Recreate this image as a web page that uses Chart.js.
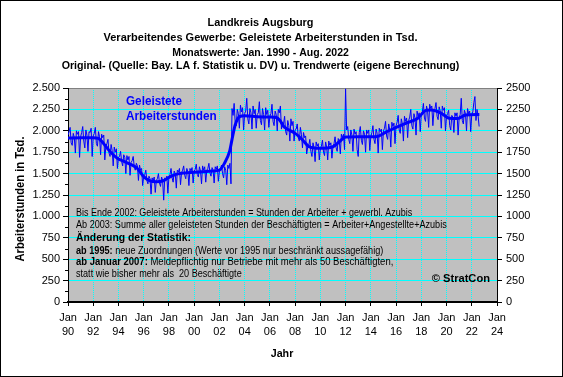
<!DOCTYPE html>
<html>
<head>
<meta charset="utf-8">
<script src="https://cdn.jsdelivr.net/npm/chart.js@4/dist/chart.umd.min.js"></script>
<style>
  body { margin: 0; background: #fff; }
  canvas { display: block; }
</style>
</head>
<body>
<canvas id="chart" width="563" height="377"></canvas>
<script>
// Monatswerte (Tsd. Stunden), Jan 1990 - Aug 2022, eine Zeile pro Jahr
const startYear = 1990;
const monthlyValues = [
  1950, 1990, 2040, 1860, 1830, 1970, 1920, 1740, 2000, 1960, 1990, 1690, // 1990
  1930, 1980, 2050, 1880, 1800, 2010, 1950, 1760, 1990, 1980, 2030, 1700, // 1991
  1940, 1970, 2040, 1850, 1820, 1990, 1930, 1720, 1960, 1920, 1950, 1660, // 1992
  1820, 1850, 1900, 1740, 1700, 1840, 1770, 1590, 1810, 1750, 1790, 1560, // 1993
  1690, 1700, 1760, 1640, 1590, 1720, 1690, 1500, 1710, 1660, 1700, 1480, // 1994
  1630, 1650, 1700, 1580, 1540, 1620, 1590, 1420, 1600, 1540, 1560, 1360, // 1995
  1470, 1490, 1540, 1420, 1380, 1470, 1440, 1260, 1450, 1420, 1460, 1280, // 1996
  1420, 1440, 1500, 1390, 1350, 1460, 1420, 1190, 1450, 1430, 1470, 1270, // 1997
  1470, 1490, 1560, 1450, 1400, 1530, 1500, 1330, 1540, 1520, 1560, 1370, // 1998
  1510, 1540, 1590, 1480, 1440, 1560, 1520, 1360, 1560, 1530, 1570, 1390, // 1999
  1530, 1550, 1610, 1490, 1460, 1580, 1530, 1380, 1590, 1540, 1580, 1400, // 2000
  1540, 1560, 1620, 1510, 1470, 1570, 1540, 1390, 1580, 1550, 1590, 1410, // 2001
  1530, 1550, 1600, 1500, 1450, 1580, 1540, 1370, 1600, 1560, 1620, 1380, // 2002
  2260, 2180, 2320, 2100, 2060, 2250, 2200, 2030, 2300, 2220, 2270, 2010, // 2003
  2200, 2230, 2380, 2140, 2080, 2260, 2210, 2020, 2290, 2200, 2250, 2030, // 2004
  2190, 2210, 2340, 2120, 2070, 2260, 2190, 2010, 2270, 2190, 2240, 2040, // 2005
  2170, 2200, 2310, 2110, 2060, 2230, 2190, 2000, 2250, 2210, 2290, 2020, // 2006
  2100, 2080, 2170, 1990, 1950, 2120, 2060, 1880, 2140, 2060, 2110, 1880, // 2007
  2010, 2020, 2080, 1920, 1880, 2040, 1960, 1800, 1980, 1920, 1940, 1730, // 2008
  1810, 1830, 1900, 1760, 1700, 1860, 1800, 1640, 1870, 1820, 1850, 1660, // 2009
  1790, 1820, 1890, 1750, 1710, 1870, 1810, 1660, 1880, 1830, 1860, 1680, // 2010
  1820, 1850, 1930, 1800, 1760, 1910, 1880, 1730, 1960, 1920, 1960, 1780, // 2011
  2490, 2010, 2050, 1900, 1850, 2010, 1950, 1760, 2020, 1960, 1990, 1780, // 2012
  1700, 1980, 2050, 1890, 1840, 2000, 1960, 1750, 2010, 1970, 2010, 1770, // 2013
  1930, 1980, 2060, 1900, 1850, 2020, 1970, 1740, 2030, 1990, 2020, 1780, // 2014
  2000, 2030, 2110, 1940, 1900, 2080, 2010, 1810, 2100, 2050, 2090, 1850, // 2015
  2060, 2100, 2180, 2010, 1970, 2140, 2080, 1880, 2170, 2110, 2150, 1920, // 2016
  2120, 2160, 2250, 2060, 2020, 2200, 2150, 1950, 2230, 2170, 2210, 1990, // 2017
  2200, 2220, 2320, 2150, 2110, 2290, 2230, 2040, 2310, 2260, 2290, 2060, // 2018
  2230, 2260, 2330, 2170, 2130, 2280, 2230, 2030, 2290, 2240, 2270, 2000, // 2019
  2170, 2200, 2240, 2060, 2010, 2180, 2160, 1980, 2210, 2170, 2210, 1950, // 2020
  2150, 2190, 2380, 2120, 2080, 2240, 2200, 2000, 2260, 2200, 2230, 1990, // 2021
  2190, 2220, 2330, 2400, 2120, 2250, 2180, 2050                          // 2022
];

// Trendwerte, Zeitpunkt in Jahren
const trendYears = [
  1990.0, 1991.0, 1992.0, 1992.4, 1992.8, 1993.2, 1993.6, 1994.0, 1994.4, 1995.0,
  1995.5, 1996.0, 1996.5, 1997.0, 1997.5, 1998.0, 1998.5, 1999.0, 2000.0, 2001.0,
  2001.5, 2002.0, 2002.4, 2002.8, 2003.0, 2003.25, 2003.6, 2004.0, 2005.0, 2006.0,
  2006.5, 2006.8, 2007.1, 2007.3, 2008.0, 2008.6, 2009.1, 2009.9, 2011.0, 2011.5,
  2012.0, 2013.0, 2014.4, 2015.2, 2016.0, 2016.8, 2017.7, 2018.4, 2018.8, 2019.6,
  2020.2, 2020.9, 2021.5, 2022.6
];
const trendValues = [
  1915, 1918, 1918, 1912, 1855, 1780, 1717, 1670, 1647, 1605,
  1560, 1465, 1415, 1405, 1413, 1455, 1488, 1503, 1515, 1525,
  1530, 1540, 1620, 1756, 1900, 2067, 2165, 2175, 2165, 2160,
  2155, 2120, 2050, 2028, 1970, 1892, 1814, 1795, 1814, 1872,
  1928, 1931, 1931, 1985, 2040, 2090, 2145, 2240, 2243, 2204,
  2148, 2145, 2184, 2190
];

// Achsen
const xMin = 1990, xMax = 2024, xStep = 2;
const yMin = 0, yMax = 2500, yStep = 250;

const titleLines = [
  'Landkreis Augsburg',
  'Verarbeitendes Gewerbe: Geleistete Arbeiterstunden in Tsd.',
  'Monatswerte: Jan. 1990 - Aug. 2022',
  'Original- (Quelle: Bay. LA f. Statistik u. DV) u. Trendwerte (eigene Berechnung)'
];

const blue = '#0000FF';
const cyan = '#00FFFF';
const font = '"Liberation Sans", Arial, sans-serif';

// deutsches Zahlenformat fuer die linke Achse
function fmtDe(v) {
  if (v < 1000) return String(v);
  return Math.floor(v / 1000) + '.' + String(v % 1000).padStart(3, '0');
}

// Text aus Segmenten auf eine Zielbreite strecken/stauchen
function drawFit(ctx, segs, x, y, width, align) {
  let w = 0;
  segs.forEach(s => { ctx.font = s.f; w += ctx.measureText(s.t).width; });
  const k = width / w;
  ctx.save();
  ctx.translate(align === 'center' ? x - width / 2 : x, y);
  ctx.scale(k, 1);
  let cx = 0;
  segs.forEach(s => {
    ctx.font = s.f;
    ctx.fillText(s.t, cx, 0);
    cx += ctx.measureText(s.t).width;
  });
  ctx.restore();
}

const decoPlugin = {
  id: 'deco',
  beforeDraw(chart) {
    const { ctx, chartArea: a } = chart;
    ctx.save();
    ctx.fillStyle = '#fff';
    ctx.fillRect(0, 0, chart.width, chart.height);
    ctx.fillStyle = '#C0C0C0';
    ctx.fillRect(a.left, a.top, a.right - a.left, a.bottom - a.top);
    ctx.restore();
  },
  afterDraw(chart) {
    const { ctx } = chart;
    const yScale = chart.scales.y;
    ctx.save();
    ctx.textBaseline = 'middle';
    ctx.fillStyle = '#000';

    // Titel
    const b11 = 'bold 11px ' + font;
    const tY = [22.7, 37.5, 52.5, 66];
    const tW = [106, 314, 176.7, 397.7];
    titleLines.forEach((t, i) => drawFit(ctx, [{ t, f: b11 }], 260.5, tY[i], tW[i], 'center'));

    // Hinweise im Diagramm
    const n10 = '10px ' + font, b10 = 'bold 10px ' + font;
    drawFit(ctx, [{ t: 'Bis Ende 2002: Geleistete Arbeiterstunden = Stunden der Arbeiter + gewerbl. Azubis', f: n10 }], 76, 213.3, 336.3);
    drawFit(ctx, [{ t: 'Ab 2003: Summe aller geleisteten Stunden der Beschäftigten = Arbeiter+Angestellte+Azubis', f: n10 }], 76, 225, 370.7);
    drawFit(ctx, [{ t: 'Änderung der Statistik:', f: 'bold 11px ' + font }], 76, 238.3, 115);
    drawFit(ctx, [{ t: 'ab 1995: ', f: b10 }, { t: 'neue Zuordnungen (Werte vor 1995 nur beschränkt aussagefähig)', f: n10 }], 76, 251, 307.3);
    drawFit(ctx, [{ t: 'ab Januar 2007: ', f: b10 }, { t: 'Meldepflichtig nur Betriebe mit mehr als 50 Beschäftigten,', f: n10 }], 76, 262.3, 317.3);
    drawFit(ctx, [{ t: 'statt wie bisher mehr als  20 Beschäftigte', f: n10 }], 76, 274, 165.7);

    drawFit(ctx, [{ t: '© StratCon', f: b11 }], 431.7, 279.3, 58.3);

    // Legendentext
    ctx.fillStyle = blue;
    drawFit(ctx, [{ t: 'Geleistete', f: 'bold 12px ' + font }], 126, 101.7, 56);
    drawFit(ctx, [{ t: 'Arbeiterstunden', f: 'bold 12px ' + font }], 126, 116.7, 90.7);

    // Achsentitel
    ctx.fillStyle = '#000';
    drawFit(ctx, [{ t: 'Jahr', f: b11 }], 282, 354.3, 22.6, 'center');
    ctx.save();
    ctx.translate(20.5, 199);
    ctx.rotate(-Math.PI / 2);
    drawFit(ctx, [{ t: 'Arbeiterstunden in Tsd.', f: 'bold 12px ' + font }], 0, 0, 125, 'center');
    ctx.restore();

    // Zwischenstriche linke Achse
    ctx.strokeStyle = '#000';
    ctx.lineWidth = 1;
    for (let v = yMin + yStep / 2; v < yMax; v += yStep) {
      const py = Math.round(yScale.getPixelForValue(v)) + 0.5;
      ctx.beginPath();
      ctx.moveTo(yScale.right - 3, py);
      ctx.lineTo(yScale.right, py);
      ctx.stroke();
    }

    // Rahmen
    ctx.strokeRect(0.5, 0.5, chart.width - 1, chart.height - 1);
    ctx.restore();
  }
};

new Chart(document.getElementById('chart'), {
  type: 'line',
  data: {
    datasets: [
      {
        label: 'Trend',
        data: trendYears.map((t, i) => ({ x: t, y: trendValues[i] })),
        borderColor: blue,
        borderWidth: 3,
        pointRadius: 0,
        cubicInterpolationMode: 'monotone'
      },
      {
        label: 'Original',
        data: monthlyValues.map((v, i) => ({ x: startYear + i / 12, y: v })),
        borderColor: blue,
        borderWidth: 1,
        pointRadius: 0,
        tension: 0
      }
    ]
  },
  options: {
    responsive: false,
    animation: false,
    devicePixelRatio: 1,
    layout: { padding: { top: 88, left: 0, right: 0, bottom: 0 } },
    plugins: { legend: { display: false }, tooltip: { enabled: false }, title: { display: false } },
    scales: {
      x: {
        type: 'linear',
        min: xMin, max: xMax,
        afterFit: s => { s.height = 75; },
        afterBuildTicks: s => { s.ticks = []; for (let v = xMin; v <= xMax; v += xStep) s.ticks.push({ value: v }); },
        ticks: {
          autoSkip: false, maxRotation: 0, padding: 4, color: '#000',
          font: { family: font, size: 11, lineHeight: 1.36 },
          callback: v => ['Jan', String(v % 100).padStart(2, '0')]
        },
        grid: {
          color: c => (c.tick && (c.tick.value === xMin || c.tick.value === xMax)) ? 'rgba(0,0,0,0)' : cyan,
          tickColor: '#000', tickLength: 4, lineWidth: 1
        },
        border: { color: '#000', width: 2, dash: [1, 1] }
      },
      y: {
        position: 'left',
        min: yMin, max: yMax,
        afterFit: s => { s.width = 68; },
        afterBuildTicks: s => { s.ticks = []; for (let v = yMin; v <= yMax; v += yStep) s.ticks.push({ value: v }); },
        ticks: { padding: 3, color: '#000', font: { family: font, size: 11 }, callback: v => fmtDe(v) },
        grid: {
          color: c => c.tick && c.tick.value === yMax ? '#808080' : (c.tick && c.tick.value === yMin ? 'rgba(0,0,0,0)' : cyan),
          tickColor: '#000', tickLength: 5
        },
        border: { color: '#000', width: 1 }
      },
      y2: {
        position: 'right',
        min: yMin, max: yMax,
        afterFit: s => { s.width = 66; },
        afterBuildTicks: s => { s.ticks = []; for (let v = yMin; v <= yMax; v += yStep) s.ticks.push({ value: v }); },
        ticks: { padding: 4, color: '#000', font: { family: font, size: 11 }, callback: v => String(v) },
        grid: { drawOnChartArea: false, tickColor: '#000', tickLength: 5 },
        border: { color: '#000', width: 1 }
      }
    }
  },
  plugins: [decoPlugin]
});
</script>
</body>
</html>
